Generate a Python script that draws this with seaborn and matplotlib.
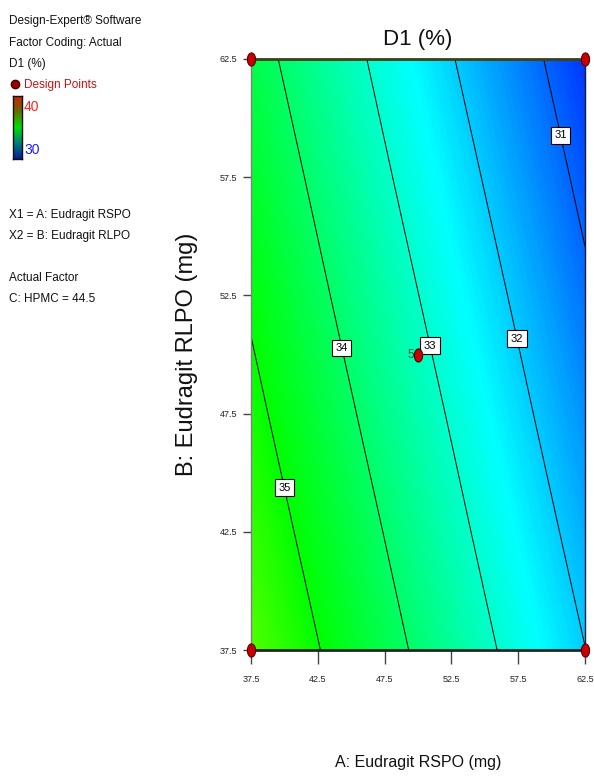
import numpy as np
import pandas as pd
import matplotlib
matplotlib.use("Agg")
import matplotlib.pyplot as plt
import seaborn as sns
from matplotlib.colors import LinearSegmentedColormap
from matplotlib.markers import MarkerStyle
from matplotlib.path import Path

# Factor levels (mg)
a_levels = [37.5, 42.5, 47.5, 52.5, 57.5, 62.5]
b_levels = [37.5, 42.5, 47.5, 52.5, 57.5, 62.5]

# D1 (%) response over the A x B grid (rows follow b_levels, columns a_levels)
d1_grid = [
    [35.78, 35.03, 34.27, 33.52, 32.76, 32.01],
    [35.49, 34.73, 33.98, 33.22, 32.47, 31.71],
    [35.19, 34.44, 33.68, 32.93, 32.17, 31.42],
    [34.90, 34.14, 33.39, 32.63, 31.88, 31.12],
    [34.60, 33.85, 33.09, 32.34, 31.58, 30.83],
    [34.31, 33.55, 32.80, 32.04, 31.29, 30.53],
]

contour_levels = [31, 32, 33, 34, 35]

# Design points (A, B) and replicate count shown beside the centre point
design_a = [37.5, 62.5, 37.5, 62.5, 50.0]
design_b = [37.5, 37.5, 62.5, 62.5, 50.0]
design_runs = ["", "", "", "", "5"]

tick_values = [37.5, 42.5, 47.5, 52.5, 57.5, 62.5]
color_low, color_high = 30, 40

# ---------------------------------------------------------------------------
sns.set_theme(style="white")
base_font = ["Liberation Sans Narrow", "Liberation Sans", "DejaVu Sans"]
plt.rcParams["font.family"] = base_font

W, H = 594, 776
fig = plt.figure(figsize=(W / 100, H / 100), dpi=100)
fig.patch.set_facecolor("white")
ax = fig.add_axes([251 / W, 1 - 650 / H, 334 / W, 591 / H])

A, B = np.meshgrid(a_levels, b_levels)
Z = np.array(d1_grid)
surface_cmap = LinearSegmentedColormap.from_list(
    "surface", ["#0000ff", "#00ffff", "#00ff00", "#ffff00", "#ff0000"])

ax.contourf(A, B, Z, levels=np.linspace(color_low, color_high, 401),
            cmap=surface_cmap, vmin=color_low, vmax=color_high, antialiased=False)
cs = ax.contour(A, B, Z, levels=contour_levels, colors="black", linewidths=0.7)

# label placement along each contour line
label_spots = [(60.85, 59.3), (57.7, 50.7), (51.1, 50.4), (44.45, 50.3), (40.2, 44.4)]
labels = ax.clabel(cs, fmt="%d", manual=label_spots, inline=False, fontsize=8)
for t in labels:
    t.set_rotation(0)
    t.set_color("black")
    t.set_bbox(dict(boxstyle="square,pad=0.3", facecolor="white",
                    edgecolor="black", linewidth=0.8))
    t.set_zorder(6)

# design points as upright ellipses
theta = np.linspace(0, 2 * np.pi, 48)
ellipse = Path(np.column_stack([0.62 * np.cos(theta), np.sin(theta)]))
pts = pd.DataFrame({"A": design_a, "B": design_b, "runs": design_runs})
sns.scatterplot(data=pts, x="A", y="B", marker=MarkerStyle(ellipse), s=90,
                color="#c80000", edgecolor="#5a0000", linewidth=0.8,
                ax=ax, clip_on=False, zorder=7, legend=False)
for _, row in pts.iterrows():
    if row["runs"]:
        ax.annotate(row["runs"], (row["A"], row["B"]), xytext=(-3, 0),
                    textcoords="offset points", ha="right", va="center",
                    fontsize=8.5, color="#1a4a3a", zorder=7)

ax.set_xlim(37.5, 62.5)
ax.set_ylim(37.5, 62.5)
ax.set_xticks(tick_values)
ax.set_yticks(tick_values)
ax.set_xticklabels([f"{v:.1f}" for v in tick_values])
ax.set_yticklabels([f"{v:.1f}" for v in tick_values])
ax.tick_params(axis="x", bottom=True, direction="out", length=10, width=1,
               color="#444444", labelsize=6.5, pad=8, labelcolor="#222222")
ax.tick_params(axis="y", left=True, direction="out", length=6, width=1,
               color="#444444", labelsize=6.5, pad=4, labelcolor="#222222")

ax.spines["top"].set_color("#3f3f10")
ax.spines["top"].set_linewidth(2)
ax.spines["bottom"].set_color("#222222")
ax.spines["bottom"].set_linewidth(2)
ax.spines["left"].set_color("#808080")
ax.spines["left"].set_linewidth(1)
ax.spines["right"].set_color("#1a1a40")
ax.spines["right"].set_linewidth(1)

ax.set_title("D1 (%)", fontsize=16, pad=10, color="#111111")
ax.set_xlabel("A: Eudragit RSPO (mg)", fontsize=11.5, color="#111111")
ax.xaxis.set_label_coords(0.5, -0.177)
ax.set_ylabel("B: Eudragit RLPO (mg)", fontsize=17, color="#111111",
              family=["Liberation Sans", "DejaVu Sans"])
ax.yaxis.set_label_coords(-0.158, 0.5)


# ---------------------------------------------------------------------------
def side_text(x, y, s, **kw):
    kw.setdefault("fontsize", 8.5)
    kw.setdefault("color", "#111111")
    fig.text(x / W, 1 - y / H, s, ha="left", va="center", **kw)


side_text(9, 21, "Design-Expert® Software")
side_text(9, 43, "Factor Coding: Actual")
side_text(9, 64, "D1 (%)")
fig.lines.append(plt.Line2D([15 / W], [1 - 84 / H], marker="o",
                            markersize=6, color="#a00000", markeredgecolor="#400000",
                            transform=fig.transFigure))
side_text(24, 85, "Design Points", color="#cc1010")
side_text(24, 107, str(color_high), color="#ff2020", fontsize=10)
side_text(24, 150, str(color_low), color="#2020ff", fontsize=10)
side_text(9, 215, "X1 = A: Eudragit RSPO")
side_text(9, 236, "X2 = B: Eudragit RLPO")
side_text(9, 278, "Actual Factor")
side_text(9, 299, "C: HPMC = 44.5")

# colour key bar
cax = fig.add_axes([13 / W, 1 - 159 / H, 9 / W, 63 / H])
key_cmap = LinearSegmentedColormap.from_list(
    "key", ["#0a1a9a", "#00807a", "#00e000", "#6a6a00", "#d02000"])
cax.imshow(np.linspace(0, 1, 100)[:, None], cmap=key_cmap, origin="lower",
           aspect="auto", extent=[0, 1, 0, 1])
cax.set_xticks([])
cax.set_yticks([])
for sp in cax.spines.values():
    sp.set_color("#101010")
    sp.set_linewidth(1)
    sp.set_visible(True)

fig.savefig("out.png", dpi=100, facecolor="white")
